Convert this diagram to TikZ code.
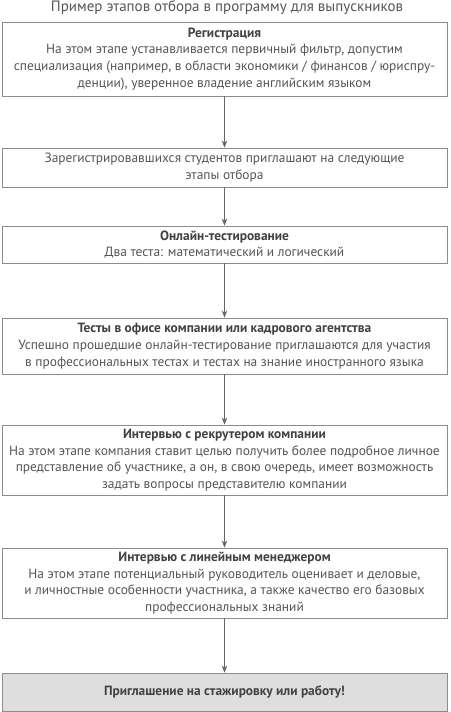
\documentclass[tikz,border=0pt]{standalone}
\usepackage{fontspec}
\setmainfont{PT Sans}
\usepackage{tikz}
\usetikzlibrary{arrows.meta,positioning}
\definecolor{boxline}{HTML}{8C8C8C}
\definecolor{boxtext}{HTML}{555555}
\definecolor{headtext}{HTML}{424242}
\definecolor{lastfill}{HTML}{DEDEDE}
\definecolor{arrline}{HTML}{666666}
\newcommand{\hd}[1]{{\bfseries\color{headtext}#1}}

\begin{document}
\begin{tikzpicture}[x=1pt, y=-1pt,
	stage/.style={draw=boxline, line width=0.9pt, fill=white, text=boxtext, minimum width=445pt, align=center, inner sep=0pt, font=\fontsize{13.4}{16.7}\selectfont},
	arr/.style={draw=arrline, line width=0.9pt, -{Stealth[length=7pt,width=5.5pt]}}]
	\useasboundingbox (0,0) rectangle (450,712);
	% Title
	\node[text=boxtext, font=\fontsize{15}{17}\selectfont] at (227,8) (title) {Пример этапов отбора в программу для выпускников};
	% Stages
	\node[stage, minimum height=74pt] at (224.5,59) (reg) {\hd{Регистрация}\\На этом этапе устанавливается первичный фильтр, допустим\\специализация (например, в области экономики / финансов / юриспру-\\денции), уверенное владение английским языком};
	\node[stage, minimum height=39pt] at (224.5,167.5) (invite) {Зарегистрировавшихся студентов приглашают на следующие\\этапы отбора};
	\node[stage, minimum height=37pt] at (224.5,244.5) (online) {\hd{Онлайн-тестирование}\\Два теста: математический и логический};
	\node[stage, minimum height=56pt] at (224.5,346) (office) {\hd{Тесты в офисе компании или кадрового агентства}\\Успешно прошедшие онлайн-тестирование приглашаются для участия\\в профессиональных тестах и тестах на знание иностранного языка};
	\node[stage, minimum height=70pt] at (224.5,460) (recruit) {\hd{Интервью с рекрутером компании}\\На этом этапе компания ставит целью получить более подробное личное\\представление об участнике, а он, в свою очередь, имеет возможность\\задать вопросы представителю компании};
	\node[stage, minimum height=70pt] at (224.5,583) (manager) {\hd{Интервью с линейным менеджером}\\На этом этапе потенциальный руководитель оценивает и деловые,\\и личностные особенности участника, а также качество его базовых\\профессиональных знаний};
	\node[stage, fill=lastfill, minimum height=38pt] at (224.5,692) (offer) {\hd{Приглашение на стажировку или работу!}};
	% Arrows
	\draw[arr] (reg) -- (invite);
	\draw[arr] (invite) -- (online);
	\draw[arr] (online) -- (office);
	\draw[arr] (office) -- (recruit);
	\draw[arr] (recruit) -- (manager);
	\draw[arr] (manager) -- (offer);
\end{tikzpicture}
\end{document}
